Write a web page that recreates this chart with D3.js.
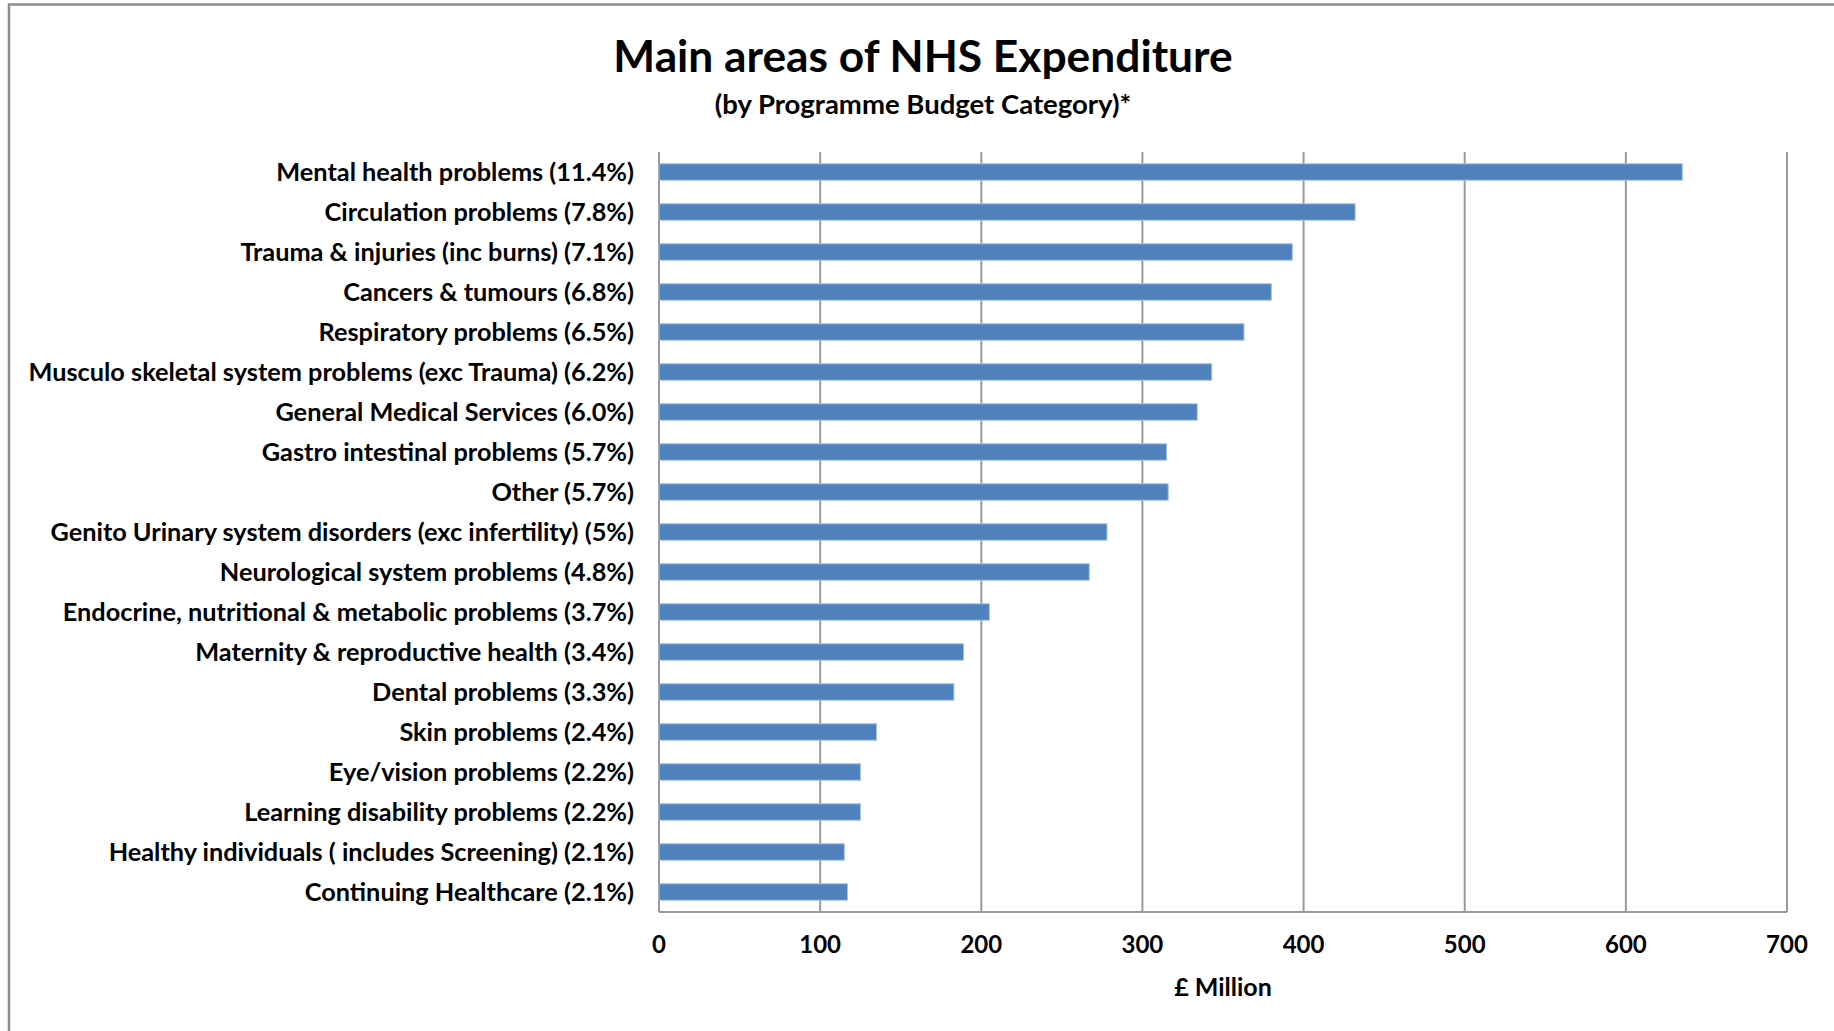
<!DOCTYPE html>
<html><head><meta charset="utf-8">
<script src="https://cdn.jsdelivr.net/npm/d3@7"></script>
<style>html,body{margin:0;padding:0;background:#fff;}svg{display:block;}</style>
</head><body>
<svg id="chart" width="1834" height="1031"></svg>
<script>
const categories = [
  "Mental health problems (11.4%)",
  "Circulation problems (7.8%)",
  "Trauma & injuries (inc burns) (7.1%)",
  "Cancers & tumours (6.8%)",
  "Respiratory problems (6.5%)",
  "Musculo skeletal system problems (exc Trauma) (6.2%)",
  "General Medical Services (6.0%)",
  "Gastro intestinal problems (5.7%)",
  "Other (5.7%)",
  "Genito Urinary system disorders (exc infertility) (5%)",
  "Neurological system problems (4.8%)",
  "Endocrine, nutritional & metabolic problems (3.7%)",
  "Maternity & reproductive health (3.4%)",
  "Dental problems (3.3%)",
  "Skin problems (2.4%)",
  "Eye/vision problems (2.2%)",
  "Learning disability problems (2.2%)",
  "Healthy individuals ( includes Screening) (2.1%)",
  "Continuing Healthcare (2.1%)"
];
const values = [635, 432, 393, 380, 363, 343, 334, 315, 316, 278, 267, 205, 189, 183, 135, 125, 125, 115, 117];
const xTicks = [0, 100, 200, 300, 400, 500, 600, 700];
const titleText = "Main areas of NHS Expenditure";
const subtitleText = "(by Programme Budget Category)*";
const xAxisTitle = "£ Million";

const svg = d3.select("#chart");
const font = "Lato, 'Open Sans', sans-serif";

// frame
svg.append("rect").attr("x", 9).attr("y", 4.5).attr("width", 1900).attr("height", 1100)
  .attr("fill", "none").attr("stroke", "#8c8c8c").attr("stroke-width", 2.5);

const x = d3.scaleLinear().domain([0, 700]).range([659, 1787]);
const y = d3.scaleBand().domain(categories).range([152, 912]).paddingInner(0.59).paddingOuter(0.295);

// gridlines
svg.append("g").selectAll("line").data(xTicks).join("line")
  .attr("x1", d => x(d)).attr("x2", d => x(d))
  .attr("y1", 152).attr("y2", 912)
  .attr("stroke", "#9a9a9a").attr("stroke-width", 2);

// bottom axis line
svg.append("line").attr("x1", x(0)).attr("x2", x(700)).attr("y1", 912).attr("y2", 912)
  .attr("stroke", "#9a9a9a").attr("stroke-width", 2);

// bars
svg.append("g").selectAll("rect").data(values).join("rect")
  .attr("x", x(0))
  .attr("y", (d, i) => y(categories[i]))
  .attr("width", d => x(d) - x(0))
  .attr("height", y.bandwidth())
  .attr("fill", "#4F81BD")
  .attr("stroke", "#A9C0E0").attr("stroke-width", 1);

// category labels
svg.append("g").selectAll("text").data(categories).join("text")
  .attr("x", 634)
  .attr("y", d => y(d) + y.bandwidth() / 2)
  .attr("dy", "0.35em")
  .attr("text-anchor", "end")
  .attr("font-family", font).attr("font-weight", "bold").attr("font-size", 25.3)
  .attr("fill", "#000")
  .text(d => d);

// tick labels
svg.append("g").selectAll("text").data(xTicks).join("text")
  .attr("x", d => x(d)).attr("y", 945).attr("dy", "0.35em")
  .attr("text-anchor", "middle")
  .attr("font-family", font).attr("font-weight", "bold").attr("font-size", 24)
  .text(d => d);

svg.append("text").attr("x", 1223).attr("y", 987).attr("dy", "0.35em")
  .attr("text-anchor", "middle")
  .attr("font-family", font).attr("font-weight", "bold").attr("font-size", 25)
  .text(xAxisTitle);

svg.append("text").attr("x", 923).attr("y", 72)
  .attr("text-anchor", "middle")
  .attr("font-family", font).attr("font-weight", "bold").attr("font-size", 44.3)
  .text(titleText);

svg.append("text").attr("x", 923).attr("y", 113.5)
  .attr("text-anchor", "middle")
  .attr("font-family", font).attr("font-weight", "bold").attr("font-size", 27.5)
  .text(subtitleText);
</script>
</body></html>
